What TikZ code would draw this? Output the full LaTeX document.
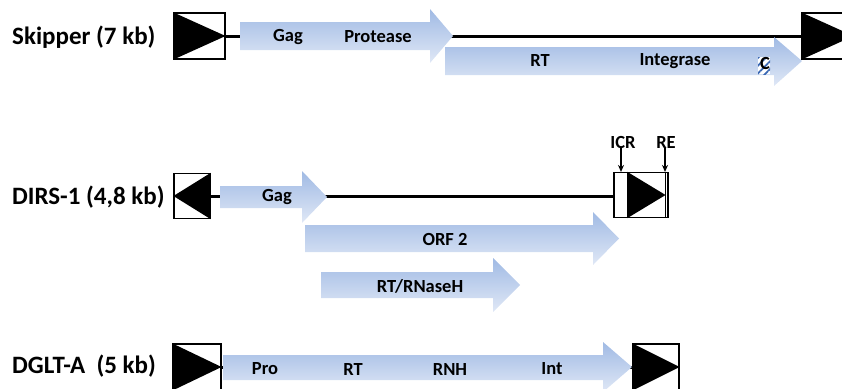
\documentclass[tikz,border=0pt]{standalone}
\usepackage{fontspec}
\setmainfont{Carlito}
\usepackage{xcolor}
\usepackage{tikz}
\usetikzlibrary{patterns.meta}
\usetikzlibrary{arrows.meta}
\definecolor{orfTop}{RGB}{160,186,228}
\definecolor{orfBottom}{RGB}{224,232,246}
\definecolor{hatchBlue}{RGB}{60,105,180}

\begin{document}
\begin{tikzpicture}[x=1pt, y=-1pt, font=\bfseries]
\tikzset{
    ltrbox/.style = {draw=black, line width=1.1pt, fill=white, inner sep=0pt},
    backbone/.style = {line width=3pt},
    genearrow/.style = {top color=orfTop, bottom color=orfBottom, draw=none},
    elemname/.style = {anchor=west, inner sep=0pt, font=\fontsize{25}{28}\selectfont\bfseries},
    orfname/.style = {inner sep=0pt, font=\fontsize{18.5}{21}\selectfont\bfseries},
    siteptr/.style = {-{Stealth[length=7pt,width=6pt]}, line width=1.2pt}
}
\useasboundingbox (0,0) rectangle (842,388);

% Skipper
\node[ltrbox, minimum width=51pt, minimum height=46pt] (skL) at (199.5,36) {};
\node[ltrbox, minimum width=51pt, minimum height=46pt] (skR) at (827.5,36) {};
\draw[backbone] (skL.east) -- (skR.west);
\shade[genearrow] (240,22) -- (430,22) -- (430,9) -- (453,36) -- (430,63) -- (430,50) -- (240,50) -- cycle;
\shade[genearrow] (445,47) -- (774,47) -- (774,37) -- (802,61) -- (774,86) -- (774,75) -- (445,75) -- cycle;
\fill[white] (758,57) rectangle (770,74);
\fill[pattern={Lines[angle=45, distance=5.5pt, line width=1.8pt]}, pattern color=hatchBlue] (758,57) rectangle (770,74);
\fill (skL.north west) -- (skL.east) -- (skL.south west) -- cycle;
\fill (skR.north west) -- (skR.east) -- (skR.south west) -- cycle;
\node[elemname] (skName) at (12,37) {Skipper (7 kb)};
\node[orfname] (skGag) at (288,37) {Gag};
\node[orfname] (skPro) at (378,37) {Protease};
\node[orfname] (skRT) at (540,61) {RT};
\node[orfname] (skInt) at (675,61) {Integrase};
\node[orfname] (skC) at (765,63) {C};

% DIRS-1
\node[ltrbox, minimum width=36pt, minimum height=45pt] (diL) at (192,196) {};
\node[ltrbox, minimum width=54pt, minimum height=45pt] (diR) at (641,195) {};
\draw[backbone] (diL.east) -- (diR.west |- diL.east);
\shade[genearrow] (220,186) -- (302,186) -- (302,171) -- (327,197) -- (302,223) -- (302,208) -- (220,208) -- cycle;
\shade[genearrow] (305,225) -- (593,225) -- (593,212) -- (619,238.5) -- (593,265) -- (593,252) -- (305,252) -- cycle;
\shade[genearrow] (321,272) -- (493,272) -- (493,258) -- (520,285) -- (493,312) -- (493,298) -- (321,298) -- cycle;
\fill (diL.north east) -- (diL.west) -- (diL.south east) -- cycle;
\draw[ltrbox] ([xshift=14pt]diR.north west) -- ([xshift=14pt]diR.south west);
\draw[ltrbox] ([xshift=-3pt]diR.north east) -- ([xshift=-3pt]diR.south east);
\fill ([xshift=14pt]diR.north west) -- ([xshift=-3pt]diR.east) -- ([xshift=14pt]diR.south west) -- cycle;
\node[elemname] (diName) at (12,197) {DIRS-1 (4,8 kb)};
\node[orfname] (diGag) at (277,197) {Gag};
\node[orfname] (diOrf) at (445,239) {ORF 2};
\node[orfname] (diRN) at (420,286) {RT/RNaseH};
\node[orfname] (icr) at (623,142) {ICR};
\node[orfname] (re) at (666,142) {RE};
\draw[siteptr] ([xshift=-2pt]icr.south) -- ([xshift=-2pt]icr.south |- diR.north);
\draw[siteptr] ([xshift=-1pt]re.south) -- ([xshift=-1pt]re.south |- diR.north);

% DGLT-A
\node[ltrbox, minimum width=48pt, minimum height=46pt] (dgL) at (197,367) {};
\node[ltrbox, minimum width=46pt, minimum height=46pt] (dgR) at (656,367) {};
\draw[backbone] (dgL.east) -- (dgR.west);
\shade[genearrow] (223,355) -- (603,355) -- (603,342) -- (632,367) -- (603,392) -- (603,380) -- (223,380) -- cycle;
\fill (dgL.north west) -- (dgL.east) -- (dgL.south west) -- cycle;
\fill (dgR.north west) -- (dgR.east) -- (dgR.south west) -- cycle;
\node[elemname] (dgName) at (12,366) {DGLT-A\ \ (5 kb)};
\node[orfname] (dgPro) at (265,369) {Pro};
\node[orfname] (dgRT) at (353,369) {RT};
\node[orfname] (dgRNH) at (450,369) {RNH};
\node[orfname] (dgInt) at (552,369) {Int};
\end{tikzpicture}
\end{document}
